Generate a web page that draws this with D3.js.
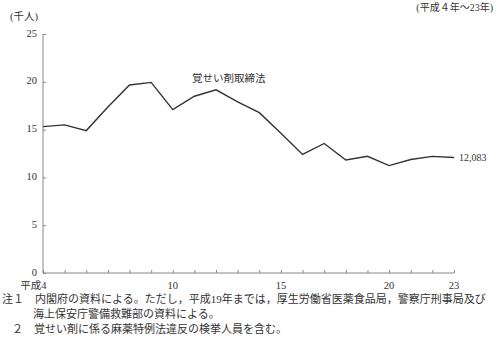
<!DOCTYPE html>
<html>
<head>
<meta charset="utf-8">
<script src="https://cdn.jsdelivr.net/npm/d3@7"></script>
<style>
  body { margin: 0; background: #fff; }
  text { font-family: "Liberation Serif", "Noto Sans CJK JP", serif; fill: #333; }
</style>
</head>
<body>
<div id="chart"></div>
<script>
const years = d3.range(4, 24);
// 覚せい剤取締法 検挙人員 (千人)
const values = [15.311, 15.495, 14.896, 17.364, 19.666, 19.937, 17.084, 18.491, 19.156, 17.912,
                16.771, 14.624, 12.397, 13.549, 11.821, 12.211, 11.231, 11.873, 12.200, 12.083];
const yTicks = [0, 5, 10, 15, 20, 25];
const xLabels = {4: "平成4", 10: "10", 15: "15", 20: "20", 23: "23"};
const notes = [
  "注１　内閣府の資料による。ただし，平成19年までは，厚生労働省医薬食品局，警察庁刑事局及び",
  "海上保安庁警備救難部の資料による。",
  "２　覚せい剤に係る麻薬特例法違反の検挙人員を含む。"
];

const W = 500, H = 351;
const margin = {top: 34, right: 46, bottom: 78, left: 43};

const svg = d3.select("#chart").append("svg")
    .attr("width", W).attr("height", H);

const x = d3.scaleLinear().domain([4, 23]).range([margin.left, W - margin.right]);
const y = d3.scaleLinear().domain([0, 25]).range([H - margin.bottom, margin.top]);

// y axis
const yAxis = svg.append("g")
    .attr("transform", `translate(${margin.left},0)`)
    .call(d3.axisRight(y).tickValues(yTicks).tickSize(3).tickFormat(""));
yAxis.select(".domain").attr("stroke", "#888").attr("d", `M0,${y(25)}V${y(0)}`);
yAxis.selectAll(".tick line").attr("stroke", "#888");

svg.selectAll(".ylab")
  .data(yTicks)
  .join("text")
    .attr("x", margin.left - 6)
    .attr("y", d => y(d) - 1)
    .attr("dy", "0.35em")
    .attr("text-anchor", "end")
    .attr("font-size", 10.5)
    .text(d => d);

// x axis
const xAxis = svg.append("g")
    .attr("transform", `translate(0,${y(0)})`)
    .call(d3.axisTop(x).tickValues(years).tickSize(3).tickFormat(""));
xAxis.select(".domain").attr("stroke", "#888").attr("d", `M${x(4)},0H${x(23)}`);
xAxis.selectAll(".tick line").attr("stroke", "#888");

svg.selectAll(".xlab")
  .data(Object.keys(xLabels).map(Number))
  .join("text")
    .attr("x", d => d === 4 ? x(d) + 3.5 : x(d))
    .attr("y", y(0) + 16)
    .attr("text-anchor", d => d === 4 ? "end" : "middle")
    .attr("font-size", 10.5)
    .text(d => xLabels[d]);

// line
svg.append("path")
    .datum(values)
    .attr("fill", "none")
    .attr("stroke", "#333")
    .attr("stroke-width", 1.4)
    .attr("d", d3.line().x((d, i) => x(years[i])).y(d => y(d)));

svg.append("text")
    .attr("x", 192).attr("y", 78).attr("dy", "0.35em")
    .attr("font-size", 10.5)
    .text("覚せい剤取締法");

svg.append("text")
    .attr("x", x(23) + 5).attr("y", y(values[values.length - 1])).attr("dy", "0.35em")
    .attr("font-size", 10)
    .text("12,083");

svg.append("text")
    .attr("x", 10).attr("y", 20)
    .attr("font-size", 10.5)
    .text("(千人)");

svg.append("text")
    .attr("x", 493).attr("y", 11)
    .attr("text-anchor", "end")
    .attr("font-size", 10)
    .text("(平成４年～23年)");

// notes
svg.append("text").attr("x", 2).attr("y", 303).attr("font-size", 11).text(notes[0]);
svg.append("text").attr("x", 33).attr("y", 318).attr("font-size", 11).text(notes[1]);
svg.append("text").attr("x", 12).attr("y", 333).attr("font-size", 11).text(notes[2]);
</script>
</body>
</html>
